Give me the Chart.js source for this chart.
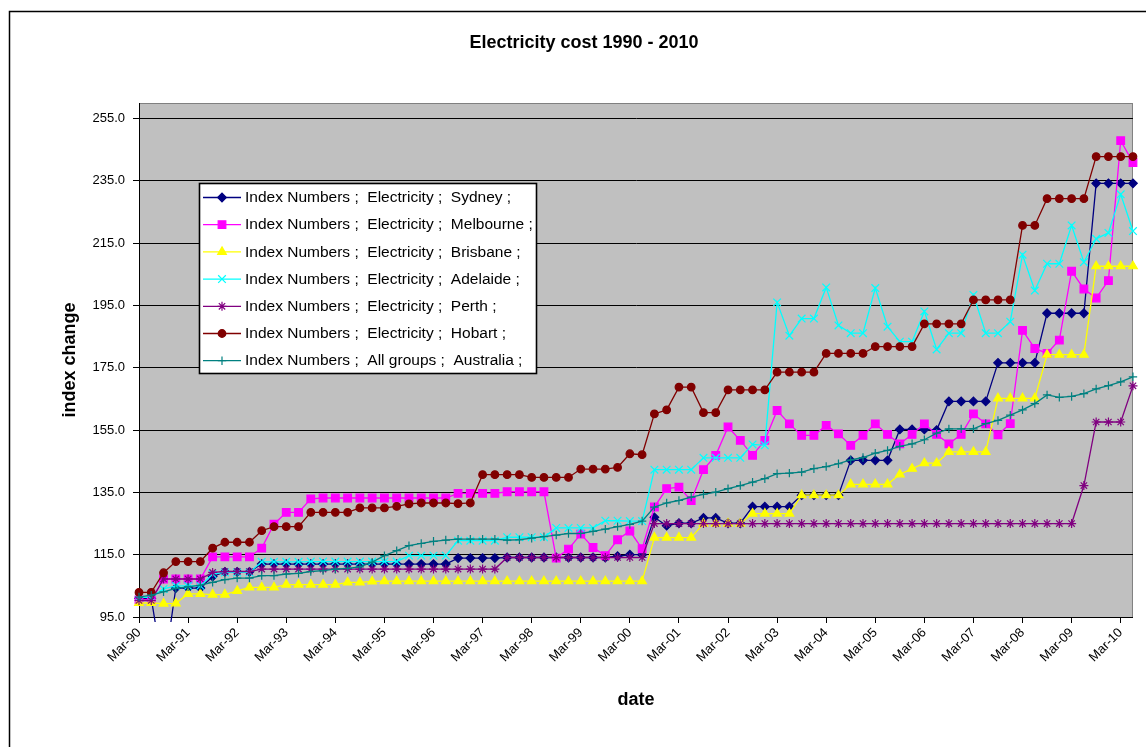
<!DOCTYPE html>
<html>
<head>
<meta charset="utf-8">
<title>Electricity cost 1990 - 2010</title>
<script src="https://cdn.jsdelivr.net/npm/chart.js@4.4.1/dist/chart.umd.min.js"></script>
<style>
  html, body { margin: 0; padding: 0; background: #ffffff; }
  canvas { display: block; }
</style>
</head>
<body>
<canvas id="chart" width="1146" height="747"></canvas>
<script>
// Quarterly categories, Mar-90 .. Jun-10
const quarters = [
  'Mar-90','Jun-90','Sep-90','Dec-90','Mar-91','Jun-91','Sep-91','Dec-91',
  'Mar-92','Jun-92','Sep-92','Dec-92','Mar-93','Jun-93','Sep-93','Dec-93',
  'Mar-94','Jun-94','Sep-94','Dec-94','Mar-95','Jun-95','Sep-95','Dec-95',
  'Mar-96','Jun-96','Sep-96','Dec-96','Mar-97','Jun-97','Sep-97','Dec-97',
  'Mar-98','Jun-98','Sep-98','Dec-98','Mar-99','Jun-99','Sep-99','Dec-99',
  'Mar-00','Jun-00','Sep-00','Dec-00','Mar-01','Jun-01','Sep-01','Dec-01',
  'Mar-02','Jun-02','Sep-02','Dec-02','Mar-03','Jun-03','Sep-03','Dec-03',
  'Mar-04','Jun-04','Sep-04','Dec-04','Mar-05','Jun-05','Sep-05','Dec-05',
  'Mar-06','Jun-06','Sep-06','Dec-06','Mar-07','Jun-07','Sep-07','Dec-07',
  'Mar-08','Jun-08','Sep-08','Dec-08','Mar-09','Jun-09','Sep-09','Dec-09',
  'Mar-10','Jun-10'
];

// Index numbers, electricity by capital city
const sydney = [
  101, 101, 77, 104.3, 104.3, 104.3, 108, 109.5, 109.5, 109.5,
  112, 112, 112, 112, 112, 112, 112, 112, 112, 112,
  112, 112, 112, 112, 112, 112, 113.9, 113.9, 113.9, 113.9,
  114.1, 114.1, 114.1, 114.1, 114.1, 114.1, 114.1, 114.1, 114.1, 114.5,
  115, 115, 127, 124.3, 125.1, 125.1, 126.8, 126.8, 125.1, 125.1,
  130.4, 130.4, 130.4, 130.4, 134.1, 134.1, 134.1, 134.1, 145.3, 145.3,
  145.3, 145.3, 155.2, 155.2, 155.2, 155, 164.2, 164.2, 164.2, 164.2,
  176.6, 176.6, 176.6, 176.6, 192.5, 192.5, 192.5, 192.5, 234.2, 234.2,
  234.2, 234.2
];
const melbourne = [
  100.5, 100.5, 107.2, 107.2, 107.2, 107.2, 114.3, 114.3, 114.3, 114.3,
  117.1, 124.8, 128.6, 128.6, 132.9, 133.2, 133.2, 133.2, 133.2, 133.2,
  133.2, 133.2, 133.2, 133.2, 133.2, 133.2, 134.7, 134.7, 134.7, 134.7,
  135.2, 135.2, 135.2, 135.2, 113.9, 116.8, 121.6, 117.3, 114.7, 119.8,
  122.6, 116.9, 130.3, 136.2, 136.7, 132.4, 142.3, 146.9, 156, 151.7,
  146.9, 151.7, 161.3, 157, 153.3, 153.3, 156.5, 153.8, 150.1, 153.3,
  157, 153.6, 150.6, 153.6, 157, 153.6, 150.6, 153.6, 160.2, 157,
  153.5, 157.1, 187, 181.2, 179.6, 183.9, 206, 200.3, 197.4, 203,
  247.9, 240.9
];
const brisbane = [
  99.5, 99.5, 99.3, 99.4, 102.4, 102.4, 102.2, 102.2, 103.4, 104.5,
  104.5, 104.5, 105.4, 105.4, 105.4, 105.4, 105.4, 106.1, 106.1, 106.4,
  106.5, 106.5, 106.5, 106.5, 106.5, 106.5, 106.5, 106.5, 106.5, 106.5,
  106.5, 106.5, 106.5, 106.5, 106.5, 106.5, 106.5, 106.5, 106.5, 106.5,
  106.5, 106.5, 120.5, 120.5, 120.5, 120.5, 125, 125, 125, 125,
  128.2, 128.2, 128.2, 128.2, 134.1, 134.1, 134.1, 134.1, 137.6, 137.6,
  137.6, 137.6, 140.8, 142.6, 144.4, 144.4, 148, 148, 148, 148,
  165.2, 165.2, 165.2, 165.2, 179.2, 179.2, 179.2, 179.2, 207.6, 207.6,
  207.6, 207.6
];
const adelaide = [
  101.3, 101.3, 104, 105, 105, 105, 108.8, 109.3, 109.3, 109.3,
  112.7, 112.7, 112.7, 112.7, 112.8, 112.8, 112.8, 112.8, 112.8, 112.8,
  112.8, 112.8, 114.7, 114.7, 114.7, 114.7, 119.5, 119.5, 119.5, 119.5,
  120.6, 120.6, 120.6, 120.6, 123.6, 123.6, 123.6, 123.6, 125.9, 125.9,
  125.8, 125.8, 142.3, 142.3, 142.3, 142.3, 146.1, 146.1, 146.1, 146.1,
  150.4, 150.1, 196, 185.3, 190.8, 190.8, 200.8, 188.6, 186.1, 186.1,
  200.6, 188.2, 183.4, 183.4, 193.1, 180.9, 186.1, 186.1, 198.4, 186.1,
  186.1, 189.8, 211.3, 199.8, 208.4, 208.4, 220.7, 208.9, 216.4, 218.3,
  230.7, 218.9
];
const perth = [
  100.3, 100.3, 107.2, 107.2, 107.2, 107.2, 109.3, 109.6, 109.6, 109.6,
  110.4, 110.4, 110.4, 110.4, 110.4, 110.4, 110.4, 110.4, 110.4, 110.4,
  110.4, 110.4, 110.4, 110.4, 110.4, 110.4, 110.4, 110.4, 110.4, 110.4,
  114.1, 114.1, 114.1, 114.1, 114.1, 114.1, 114.1, 114.1, 114.1, 114.1,
  114.1, 114.1, 125, 125, 125, 125, 125, 125, 125, 125,
  125, 125, 125, 125, 125, 125, 125, 125, 125, 125,
  125, 125, 125, 125, 125, 125, 125, 125, 125, 125,
  125, 125, 125, 125, 125, 125, 125, 137.2, 157.6, 157.6,
  157.6, 169.2
];
const hobart = [
  102.9, 102.9, 109.2, 112.8, 112.8, 112.8, 117.1, 119, 119, 119,
  122.7, 124, 124, 124, 128.6, 128.6, 128.6, 128.6, 130, 130,
  130, 130.5, 131.3, 131.6, 131.6, 131.6, 131.4, 131.6, 140.7, 140.7,
  140.7, 140.7, 139.8, 139.8, 139.8, 139.8, 142.5, 142.5, 142.5, 143,
  147.4, 147.1, 160.2, 161.5, 168.8, 168.8, 160.6, 160.6, 167.9, 167.9,
  167.9, 167.9, 173.6, 173.6, 173.6, 173.6, 179.6, 179.6, 179.6, 179.6,
  181.8, 181.8, 181.8, 181.8, 189.1, 189.1, 189.1, 189.1, 196.8, 196.8,
  196.8, 196.8, 220.7, 220.7, 229.3, 229.3, 229.3, 229.3, 242.8, 242.8,
  242.8, 242.8
];
// All groups CPI, Australia
const allGroups = [
  101.4, 102, 103.1, 104.2, 104.7, 105.2, 106.1, 107, 107.5, 107.5,
  108.3, 108.3, 108.8, 109, 109.6, 109.9, 110.4, 110.6, 111.1, 112.6,
  114.7, 116.3, 117.9, 118.6, 119.3, 119.7, 120, 120, 120, 120,
  119.7, 119.8, 120.3, 120.8, 121.3, 121.8, 121.8, 122.5, 123.2, 124,
  124.7, 125.8, 130.3, 131.6, 132.4, 133.5, 134.4, 135.1, 136.2, 137.2,
  138.3, 139.4, 141, 141.2, 141.5, 142.6, 143.3, 144.2, 145.4, 146.2,
  147.6, 148.5, 149.8, 150.6, 151.9, 154, 155.4, 155.4, 155.4, 157.1,
  158.1, 159.8, 161.5, 163.5, 166.3, 165.5, 165.8, 166.7, 168.2, 169.3,
  170.5, 172.1
];

const yTickValues = [95, 115, 135, 155, 175, 195, 215, 235, 255];

const seriesNames = [
  'Index Numbers ;  Electricity ;  Sydney ;',
  'Index Numbers ;  Electricity ;  Melbourne ;',
  'Index Numbers ;  Electricity ;  Brisbane ;',
  'Index Numbers ;  Electricity ;  Adelaide ;',
  'Index Numbers ;  Electricity ;  Perth ;',
  'Index Numbers ;  Electricity ;  Hobart ;',
  'Index Numbers ;  All groups ;  Australia ;'
];
const seriesValues = [sydney, melbourne, brisbane, adelaide, perth, hobart, allGroups];
const seriesColors = ['#000080', '#FF00FF', '#FFFF00', '#00FFFF', '#800080', '#800000', '#008080'];
const seriesMarkers = ['rectRot', 'rect', 'triangle', 'crossRot', 'star', 'circle', 'cross'];
const markerSizes = [4.3, 5.4, 5, 5.4, 4.5, 3.8, 4.2];

const FONT = '"Liberation Sans", Arial, sans-serif';

const datasets = seriesValues.map((vals, k) => ({
  label: seriesNames[k],
  data: vals,
  borderColor: seriesColors[k],
  backgroundColor: seriesColors[k],
  pointBackgroundColor: seriesColors[k],
  pointBorderColor: seriesColors[k],
  borderWidth: 1.3,
  pointBorderWidth: 1.2,
  pointStyle: seriesMarkers[k],
  pointRadius: markerSizes[k],
  tension: 0,
  fill: false,
  order: seriesValues.length - k,
  clip: { left: 7, right: 7, top: 7, bottom: 5 }
}));

// Page frame, grey plot background and plot border
const backdrop = {
  id: 'backdrop',
  beforeDraw(chart) {
    const { ctx, chartArea: a } = chart;
    ctx.save();
    ctx.fillStyle = '#ffffff';
    ctx.fillRect(0, 0, chart.width, chart.height);
    ctx.strokeStyle = '#000000';
    ctx.lineWidth = 1.5;
    ctx.beginPath();
    ctx.moveTo(9.5, chart.height + 2);
    ctx.lineTo(9.5, 11.5);
    ctx.lineTo(chart.width + 2, 11.5);
    ctx.stroke();
    ctx.fillStyle = '#C0C0C0';
    ctx.fillRect(a.left, a.top, a.right - a.left, a.bottom - a.top);
    ctx.strokeStyle = '#808080';
    ctx.lineWidth = 1;
    ctx.strokeRect(a.left + 0.5, a.top + 0.5, a.right - a.left - 1, a.bottom - a.top);
    // chart heading
    ctx.fillStyle = '#000000';
    ctx.font = 'bold 18px ' + FONT;
    ctx.textAlign = 'center';
    ctx.textBaseline = 'middle';
    ctx.fillText('Electricity cost 1990 - 2010', 584, 43);
    ctx.restore();
  }
};

function drawMarker(ctx, style, radius, x, y, color) {
  ctx.fillStyle = color;
  ctx.strokeStyle = color;
  ctx.lineWidth = 1.2;
  if (Chart.helpers && Chart.helpers.drawPoint) {
    Chart.helpers.drawPoint(ctx, { pointStyle: style, radius: radius, rotation: 0, borderWidth: 1.2 }, x, y);
  } else {
    ctx.beginPath();
    ctx.arc(x, y, radius, 0, Math.PI * 2);
    ctx.fill();
  }
}

// Boxed legend placed inside the plot
const boxLegend = {
  id: 'boxLegend',
  afterDatasetsDraw(chart) {
    const { ctx } = chart;
    const x0 = 199, y0 = 183, w = 337, h = 190;
    const rowTop = 197.5, rowStep = 27.2;
    ctx.save();
    ctx.fillStyle = '#ffffff';
    ctx.fillRect(x0, y0, w, h);
    ctx.strokeStyle = '#000000';
    ctx.lineWidth = 1.6;
    ctx.strokeRect(x0 + 0.5, y0 + 0.5, w, h);
    ctx.font = '15.5px ' + FONT;
    ctx.textAlign = 'left';
    ctx.textBaseline = 'middle';
    chart.data.datasets.forEach((ds, k) => {
      const y = rowTop + k * rowStep;
      ctx.strokeStyle = ds.borderColor;
      ctx.lineWidth = 1.3;
      ctx.beginPath();
      ctx.moveTo(203, y);
      ctx.lineTo(241, y);
      ctx.stroke();
      drawMarker(ctx, ds.pointStyle, ds.pointRadius, 222, y, ds.borderColor);
      ctx.fillStyle = '#000000';
      ctx.fillText(ds.label, 245, y + 0.5);
    });
    ctx.restore();
  }
};

new Chart(document.getElementById('chart').getContext('2d'), {
  type: 'line',
  data: { labels: quarters, datasets: datasets },
  options: {
    responsive: false,
    animation: false,
    events: [],
    layout: { padding: { left: 0, right: 12, top: 103, bottom: 0 } },
    plugins: {
      legend: { display: false },
      tooltip: { enabled: false },
      title: { display: false }
    },
    scales: {
      x: {
        type: 'category',
        offset: false,
        border: { color: '#000000', width: 1 },
        grid: {
          drawOnChartArea: false,
          drawTicks: true,
          tickLength: 6,
          color: (c) => (c.index % 4 === 0 ? '#000000' : 'rgba(0,0,0,0)')
        },
        ticks: {
          autoSkip: false,
          maxRotation: 45,
          minRotation: 45,
          padding: 2,
          color: '#000000',
          font: { family: FONT, size: 13 },
          callback: (v, i) => (i % 4 === 0 ? quarters[i] : '')
        },
        title: {
          display: true,
          text: 'date',
          color: '#000000',
          font: { family: FONT, size: 18, weight: 'bold' },
          padding: { top: 0, bottom: 36 }
        },
        afterFit: (s) => { s.height = 130; }
      },
      y: {
        min: 95,
        max: 260,
        border: { color: '#000000', width: 1 },
        grid: { color: '#000000', lineWidth: 1, tickLength: 6 },
        afterBuildTicks: (s) => { s.ticks = yTickValues.map(v => ({ value: v })); },
        ticks: {
          padding: 8,
          color: '#000000',
          font: { family: FONT, size: 13 },
          callback: (v) => Number(v).toFixed(1)
        },
        title: {
          display: true,
          text: 'index change',
          color: '#000000',
          font: { family: FONT, size: 18, weight: 'bold' },
          padding: { top: 59, bottom: 0 }
        },
        afterFit: (s) => { s.width = 139; }
      }
    }
  },
  plugins: [backdrop, boxLegend]
});
</script>
</body>
</html>
